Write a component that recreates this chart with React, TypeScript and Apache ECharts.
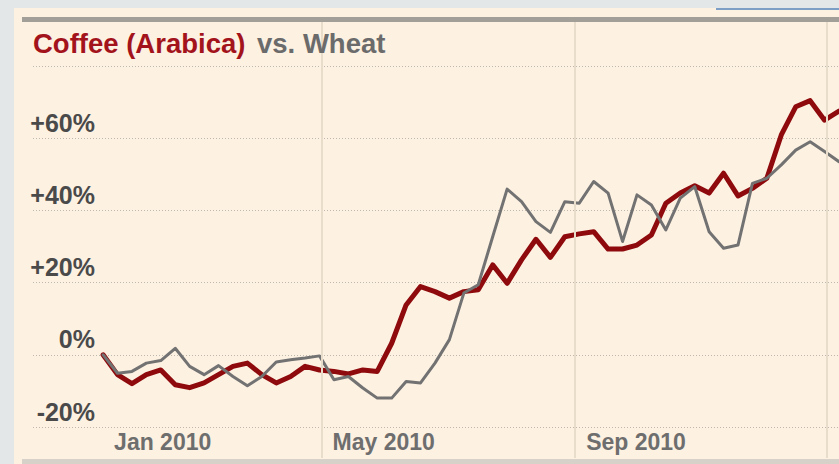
import React, { useEffect, useRef } from "react";
import * as echarts from "echarts";

// Weekly observations, starting Friday 15 Jan 2010
const firstWeek = "2010-01-15";
const coffee = [
  0, -5.5, -8, -5.5, -4.2, -8.3, -9.1, -7.8, -5.5, -3.2, -2.3, -5.5, -7.8, -6, -3.2, -4.2,
  -4.6, -5.3, -4.2, -4.6, 3.2, 13.8, 18.9, 17.5, 15.7, 17.5, 18, 24.9, 19.8, 26.3, 32, 27,
  32.7, 33.5, 34.1, 29.3, 29.3, 30.4, 33.2, 42, 44.8, 46.8, 44.8, 50.3, 44, 46.1, 48.9, 60.9,
  68.7, 70.4, 65, 67.5,
];
const wheat = [
  0, -5.1, -4.6, -2.3, -1.6, 1.8, -3.2, -5.5, -3, -6, -8.6, -6, -2, -1.4, -0.9, -0.3,
  -6.9, -6, -9.2, -12, -12, -7.4, -7.8, -2.3, 4.2, 17.1, 19.4, 32.7, 45.9, 42.4, 36.9, 33.9,
  42.4, 42, 48, 44.8, 31.4, 44.3, 41.5, 34.6, 43.4, 46.6, 34.1, 29.5, 30.4, 47.5, 48.9, 52.6,
  56.7, 59, 56.3, 53.5,
];
const xTickDates = ["2010-01-15", "2010-05-01", "2010-09-01"];
const xTickLabels = ["Jan 2010", "May 2010", "Sep 2010"];
const monthLines = ["2010-05-01", "2010-09-01", "2011-01-01"];
const xRange = ["2009-12-12", "2011-01-07"];
const yTicks = [-20, 0, 20, 40, 60, 80];

// days since 1 Jan 2010 (UTC)
const DAY = 86400000;
const dayNum = (s: string) => {
  const [y, m, d] = s.split("-").map(Number);
  return Math.round((Date.UTC(y, m - 1, d) - Date.UTC(2010, 0, 1)) / DAY);
};
const weekDays = coffee.map((_, i) => dayNum(firstWeek) + i * 7);

const FONT = "'Liberation Sans', Arial, sans-serif";

export default function App() {
  const ref = useRef<HTMLDivElement>(null);
  useEffect(() => {
    if (!ref.current) return;
    const chart = echarts.init(ref.current, null, { renderer: "svg" });
    const tickDays = xTickDates.map(dayNum);
    chart.setOption({
      animation: false,
      backgroundColor: "#e4e7e7",
      textStyle: { fontFamily: FONT },
      title: {
        left: 33,
        top: 27,
        padding: 0,
        text: "{r|Coffee (Arabica)} {g|vs. Wheat}",
        textStyle: {
          fontFamily: FONT,
          fontSize: 27.5,
          fontWeight: "bold",
          rich: {
            r: { color: "#a3131b", fontSize: 27.5, fontWeight: "bold", fontFamily: FONT, lineHeight: 32 },
            g: { color: "#6b6b6b", fontSize: 27.5, fontWeight: "bold", fontFamily: FONT, lineHeight: 32, padding: [0, 0, 0, 4] },
          },
        },
      },
      graphic: [
        { type: "rect", z: -10, shape: { x: 14, y: 8, width: 825, height: 456 }, style: { fill: "#fdf1e2" } },
        { type: "rect", z: -9, shape: { x: 22, y: 17, width: 817, height: 5 }, style: { fill: "#a29f99" } },
        { type: "rect", z: -9, shape: { x: 22, y: 459, width: 817, height: 5 }, style: { fill: "#d6d1c9" } },
        { type: "rect", z: -9, shape: { x: 716, y: 8, width: 123, height: 2 }, style: { fill: "#7d9fc6" } },
      ],
      grid: [
        { left: 33, right: 0, top: 66, bottom: 37 },
        { left: 33, right: 0, top: 22, bottom: 6 },
      ],
      xAxis: [
        {
          type: "value",
          gridIndex: 0,
          min: dayNum(xRange[0]),
          max: dayNum(xRange[1]),
          axisLine: { show: false },
          axisTick: { show: false },
          splitLine: { show: false },
          axisLabel: {
            customValues: tickDays,
            align: "left",
            padding: [0, 0, 0, 11],
            margin: 3,
            fontSize: 23,
            fontWeight: "bold",
            color: "#6e6e6e",
            fontFamily: FONT,
            showMinLabel: true,
            showMaxLabel: true,
            formatter: (v: number) => {
              const i = tickDays.indexOf(v);
              return i >= 0 ? xTickLabels[i] : "";
            },
          },
        },
        {
          type: "value",
          gridIndex: 1,
          min: dayNum(xRange[0]),
          max: dayNum(xRange[1]),
          show: false,
          splitLine: { show: false },
        },
      ],
      yAxis: [
        {
          type: "value",
          gridIndex: 0,
          min: yTicks[0],
          max: yTicks[yTicks.length - 1],
          interval: 20,
          axisLine: { show: false },
          axisTick: { show: false },
          splitLine: { show: true, lineStyle: { color: "#bdb8b0", type: [1, 2], width: 1 } },
          axisLabel: {
            showMaxLabel: false,
            margin: -62,
            align: "right",
            verticalAlign: "bottom",
            lineHeight: 25,
            padding: [0, 0, 3, 0],
            fontSize: 25,
            fontWeight: "bold",
            color: "#4a4a4a",
            fontFamily: FONT,
            formatter: (v: number) => (v > 0 ? "+" + v + "%" : v + "%"),
          },
        },
        { type: "value", gridIndex: 1, min: 0, max: 1, show: false, splitLine: { show: false } },
      ],
      series: [
        {
          type: "line",
          xAxisIndex: 1,
          yAxisIndex: 1,
          data: [[dayNum(xRange[0]), null]],
          showSymbol: false,
          silent: true,
          markLine: {
            silent: true,
            symbol: "none",
            label: { show: false },
            lineStyle: { color: "#e8dccb", width: 2, type: "solid" },
            data: monthLines.map((d) => ({ xAxis: dayNum(d) })),
          },
        },
        {
          name: "Coffee (Arabica)",
          type: "line",
          data: weekDays.map((d, i) => [d, coffee[i]]),
          showSymbol: false,
          lineStyle: { color: "#8e0a0c", width: 5, join: "round", cap: "round" },
        },
        {
          name: "Wheat",
          type: "line",
          data: weekDays.map((d, i) => [d, wheat[i]]),
          showSymbol: false,
          lineStyle: { color: "#727272", width: 3, join: "round", cap: "round" },
        },
      ],
    });
    return () => chart.dispose();
  }, []);
  return (
    <div
      ref={ref}
      style={{ position: "fixed", left: 0, top: 0, width: 839, height: 464 }}
    />
  );
}
